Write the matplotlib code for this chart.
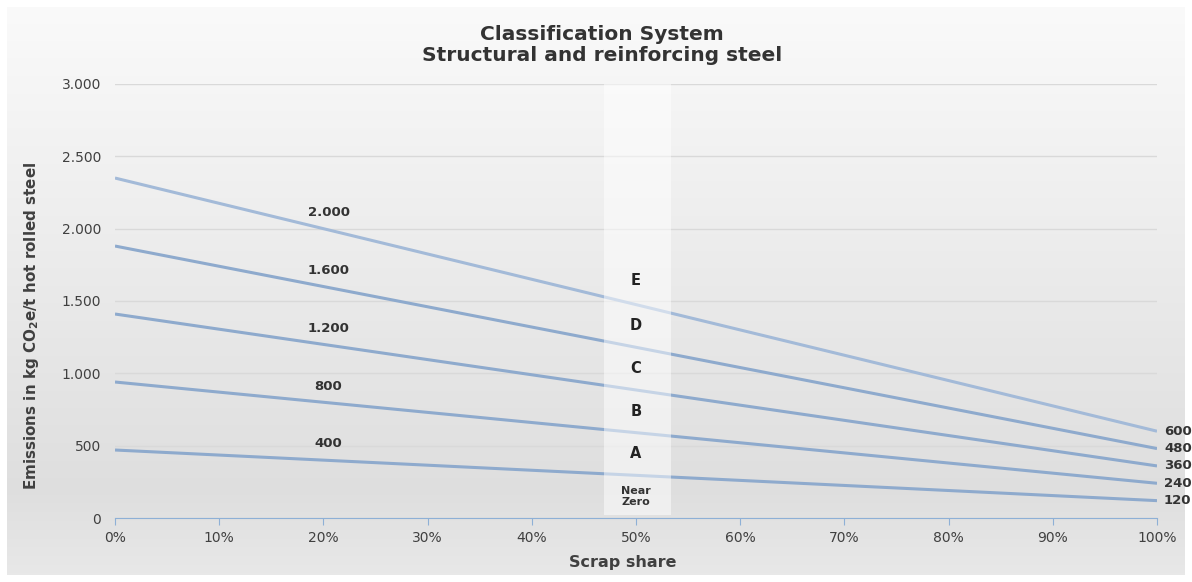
import matplotlib.pyplot as plt
import matplotlib.ticker as mticker
import numpy as np

plt.rcParams['font.family'] = ['DejaVu Sans']

# scrap share (fraction) and emission lines per class boundary
scrap = np.array([0.0, 1.0])
start_vals = [2350, 1880, 1410, 940, 470]
end_vals = [600, 480, 360, 240, 120]
mid_labels = ['2.000', '1.600', '1.200', '800', '400']
end_labels = ['600', '480', '360', '240', '120']
classes = ['E', 'D', 'C', 'B', 'A', 'Near\nZero']
line_colors = ['#a3bad8', '#8eaacd', '#8eaacd', '#8eaacd', '#8eaacd']

fig = plt.figure(figsize=(11.92, 5.82), dpi=100)

# gradient background panel
bg = fig.add_axes([7 / 1192, 7 / 582, 1178 / 1192, 568 / 582], zorder=-5)
stops = np.array([0.0, 0.85, 1.0])
greys = np.array([0.98, 0.872, 0.91])
t = np.linspace(0, 1, 300)
g = np.interp(t, stops, greys)
img = np.repeat(g[:, None], 2, axis=1)
bg.imshow(np.dstack([img, img, img]), aspect='auto', extent=[0, 1, 0, 1], origin='upper')
bg.axis('off')

ax = fig.add_axes([115 / 1192, 64 / 582, 1042 / 1192, 434 / 582])
ax.patch.set_alpha(0)

for s, e, c in zip(start_vals, end_vals, line_colors):
    ax.plot(scrap, [s, e], color=c, lw=2.2, solid_capstyle='butt', zorder=3)

# value labels near 20 % and at the right end
for s, e, lab, endlab in zip(start_vals, end_vals, mid_labels, end_labels):
    v20 = np.interp(0.2, scrap, [s, e])
    ax.annotate(lab, (0.205, v20), xytext=(0, 7), textcoords='offset points',
                ha='center', va='bottom', fontsize=9.5, fontweight='bold', color='#333333')
    ax.annotate(endlab, (1.0, e), xytext=(5, 0), textcoords='offset points',
                ha='left', va='center', fontsize=9.5, fontweight='bold', color='#333333',
                annotation_clip=False)

# white band with class letters at 50 %
ax.axvspan(0.469, 0.534, ymin=0.006, ymax=1.0, color='white', alpha=0.5, lw=0, zorder=4)
at50 = [np.interp(0.5, scrap, [s, e]) for s, e in zip(start_vals, end_vals)]
bounds = at50 + [0]
ypos = [at50[0] + 170] + [(bounds[i] + bounds[i + 1]) / 2 for i in range(len(at50))]
for cls, y in zip(classes, ypos):
    small = '\n' in cls
    ax.text(0.5, y, cls, ha='center', va='center', fontsize=8 if small else 10.5,
            fontweight='bold', color='#222222' if not small else '#333333',
            linespacing=1.1, zorder=5)

ax.set_xlim(0, 1)
ax.set_ylim(0, 3000)
ax.set_xticks(np.arange(0, 1.01, 0.1))
ax.xaxis.set_major_formatter(mticker.FuncFormatter(lambda v, p: f'{v * 100:.0f}%'))
ax.set_yticks(np.arange(0, 3001, 500))
ax.yaxis.set_major_formatter(mticker.FuncFormatter(lambda v, p: f'{v:,.0f}'.replace(',', '.')))
ax.grid(axis='y', color='#d9d9d9', lw=1)
ax.set_axisbelow(True)
for sp in ['top', 'right', 'left']:
    ax.spines[sp].set_visible(False)
ax.spines['bottom'].set_color('#8eb0d6')
ax.tick_params(axis='x', colors='#8eb0d6', labelcolor='#404040', length=5, direction='out',
               labelsize=10, pad=4)
ax.tick_params(axis='y', length=0, labelcolor='#404040', labelsize=10, pad=10)

fig.text(0.505, 1 - 45 / 582, 'Classification System\nStructural and reinforcing steel',
         ha='center', va='center', fontsize=14.5, fontweight='bold', color='#333333',
         linespacing=1.15)
fig.text(623 / 1192, 1 - 563 / 582, 'Scrap share', ha='center', va='center',
         fontsize=11.5, fontweight='bold', color='#404040')
fig.text(32 / 1192, 1 - 326 / 582, r'Emissions in kg CO$_\mathbf{2}$e/t hot rolled steel',
         rotation=90, ha='center', va='center', fontsize=10.9, fontweight='bold', color='#404040')

fig.savefig('out.png', dpi=100)
